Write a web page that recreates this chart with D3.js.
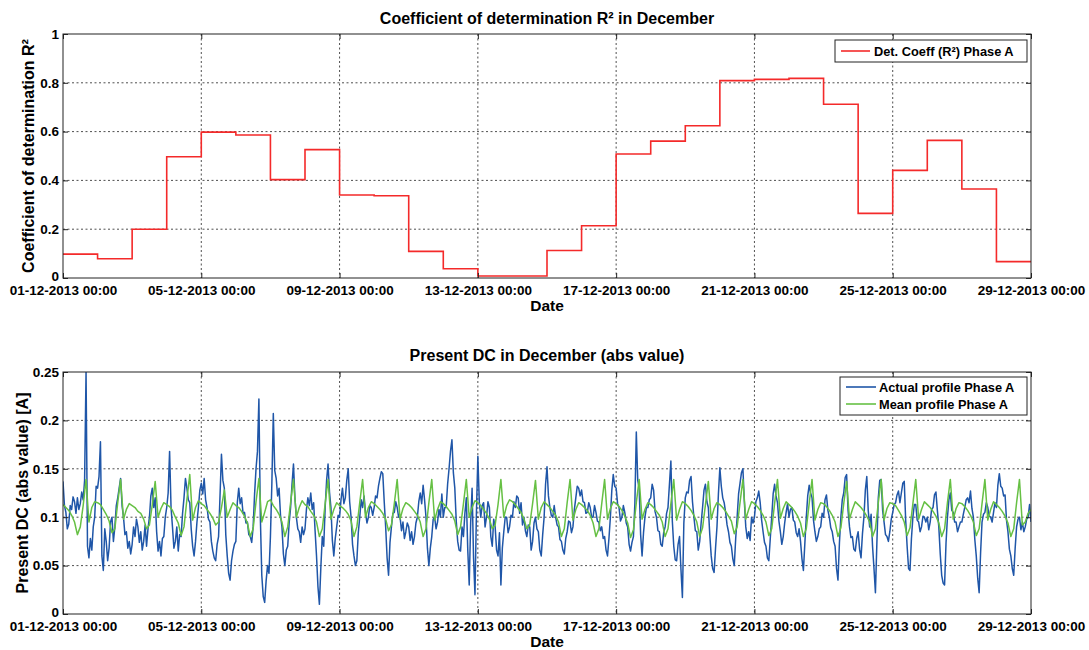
<!DOCTYPE html>
<html>
<head>
<meta charset="utf-8">
<script src="https://cdn.jsdelivr.net/npm/d3@7"></script>
<style>
  html, body { margin: 0; padding: 0; background: #fff; }
  svg { display: block; font-family: "Liberation Sans", Arial, sans-serif; }
  .tick text { font-weight: bold; font-size: 13.5px; fill: #000; }
</style>
</head>
<body>
<svg id="chart" width="1089" height="650"></svg>
<script>
// ---------------- DATA ----------------
const startDate = Date.UTC(2013, 11, 1);
const endDate = Date.UTC(2013, 11, 29);
const xTickDates = ["2013-12-01", "2013-12-05", "2013-12-09", "2013-12-13", "2013-12-17", "2013-12-21", "2013-12-25", "2013-12-29"];
const r2TickValues = [0, 0.2, 0.4, 0.6, 0.8, 1];
const dcTickValues = [0, 0.05, 0.1, 0.15, 0.2, 0.25];

// daily R² values, Dec 1 .. Dec 28
const r2Values = [0.098, 0.079, 0.2, 0.497, 0.598, 0.586, 0.403, 0.526, 0.34, 0.337,
                  0.109, 0.038, 0.008, 0.008, 0.113, 0.214, 0.508, 0.561, 0.624, 0.809,
                  0.814, 0.818, 0.712, 0.265, 0.441, 0.564, 0.365, 0.067];

// hourly samples of the actual profile, 01-12-2013 00:00 .. 29-12-2013 00:00
const actualStepHours = 1;
const actualProfile = [
  0.137, 0.112, 0.105, 0.088, 0.093, 0.112, 0.108, 0.121, 0.116, 0.104, 0.12, 0.108, 0.114, 0.126, 0.118, 0.138, 0.25, 0.07, 0.058, 0.078, 0.066, 0.09, 0.1, 0.132,
  0.13, 0.142, 0.178, 0.06, 0.045, 0.088, 0.075, 0.055, 0.068, 0.095, 0.1, 0.075, 0.09, 0.112, 0.12, 0.13, 0.14, 0.112, 0.1, 0.082, 0.085, 0.068, 0.075, 0.062,
  0.072, 0.09, 0.08, 0.098, 0.09, 0.074, 0.085, 0.066, 0.075, 0.092, 0.07, 0.088, 0.1, 0.122, 0.13, 0.11, 0.12, 0.085, 0.065, 0.075, 0.06, 0.078, 0.08, 0.1,
  0.11, 0.125, 0.168, 0.11, 0.09, 0.068, 0.075, 0.09, 0.065, 0.082, 0.08, 0.104, 0.12, 0.14, 0.13, 0.118, 0.115, 0.088, 0.07, 0.06, 0.075, 0.095, 0.11, 0.128,
  0.135, 0.124, 0.14, 0.118, 0.11, 0.098, 0.095, 0.075, 0.065, 0.058, 0.055, 0.072, 0.08, 0.122, 0.165, 0.138, 0.13, 0.082, 0.06, 0.042, 0.035, 0.055, 0.065, 0.072,
  0.075, 0.115, 0.13, 0.114, 0.12, 0.104, 0.105, 0.094, 0.095, 0.082, 0.08, 0.074, 0.09, 0.124, 0.15, 0.168, 0.222, 0.1, 0.04, 0.018, 0.012, 0.034, 0.05, 0.042,
  0.08, 0.135, 0.207, 0.148, 0.14, 0.122, 0.13, 0.102, 0.09, 0.062, 0.05, 0.066, 0.07, 0.094, 0.11, 0.134, 0.155, 0.12, 0.1, 0.088, 0.085, 0.074, 0.09, 0.082,
  0.088, 0.108, 0.12, 0.112, 0.125, 0.108, 0.115, 0.086, 0.06, 0.028, 0.01, 0.048, 0.08, 0.07, 0.11, 0.138, 0.155, 0.126, 0.11, 0.076, 0.06, 0.078, 0.09, 0.102,
  0.1, 0.118, 0.13, 0.114, 0.12, 0.138, 0.15, 0.116, 0.1, 0.072, 0.06, 0.05, 0.055, 0.084, 0.1, 0.118, 0.11, 0.122, 0.105, 0.094, 0.1, 0.112, 0.11, 0.102,
  0.11, 0.122, 0.12, 0.132, 0.14, 0.147, 0.145, 0.116, 0.09, 0.058, 0.04, 0.074, 0.09, 0.104, 0.105, 0.116, 0.11, 0.1, 0.1, 0.086, 0.095, 0.078, 0.085, 0.094,
  0.09, 0.076, 0.085, 0.072, 0.08, 0.094, 0.1, 0.116, 0.125, 0.114, 0.133, 0.118, 0.1, 0.068, 0.05, 0.068, 0.08, 0.098, 0.1, 0.088, 0.095, 0.108, 0.1, 0.124,
  0.1, 0.11, 0.11, 0.134, 0.15, 0.168, 0.18, 0.146, 0.13, 0.096, 0.075, 0.066, 0.065, 0.09, 0.08, 0.104, 0.12, 0.066, 0.03, 0.094, 0.13, 0.058, 0.02, 0.104,
  0.163, 0.116, 0.1, 0.112, 0.115, 0.09, 0.1, 0.116, 0.11, 0.08, 0.07, 0.098, 0.09, 0.066, 0.06, 0.084, 0.03, 0.068, 0.085, 0.1, 0.1, 0.084, 0.09, 0.102,
  0.1, 0.116, 0.11, 0.122, 0.12, 0.104, 0.115, 0.092, 0.1, 0.086, 0.08, 0.092, 0.09, 0.066, 0.075, 0.094, 0.1, 0.088, 0.085, 0.066, 0.06, 0.082, 0.1, 0.134,
  0.152, 0.122, 0.11, 0.102, 0.1, 0.112, 0.1, 0.092, 0.09, 0.077, 0.075, 0.066, 0.062, 0.078, 0.085, 0.096, 0.095, 0.084, 0.09, 0.108, 0.12, 0.132, 0.13, 0.122,
  0.128, 0.116, 0.115, 0.104, 0.105, 0.115, 0.11, 0.1, 0.1, 0.112, 0.105, 0.096, 0.095, 0.086, 0.09, 0.078, 0.08, 0.066, 0.06, 0.078, 0.1, 0.128, 0.144, 0.132,
  0.13, 0.114, 0.11, 0.096, 0.1, 0.112, 0.105, 0.094, 0.09, 0.072, 0.065, 0.074, 0.08, 0.114, 0.188, 0.138, 0.13, 0.082, 0.06, 0.084, 0.1, 0.11, 0.11, 0.118,
  0.12, 0.134, 0.128, 0.106, 0.1, 0.086, 0.085, 0.072, 0.07, 0.084, 0.09, 0.104, 0.11, 0.134, 0.158, 0.096, 0.07, 0.056, 0.055, 0.072, 0.08, 0.046, 0.017, 0.094,
  0.12, 0.126, 0.125, 0.138, 0.142, 0.116, 0.1, 0.086, 0.085, 0.066, 0.075, 0.094, 0.11, 0.128, 0.134, 0.116, 0.11, 0.082, 0.06, 0.047, 0.043, 0.068, 0.09, 0.124,
  0.151, 0.132, 0.12, 0.115, 0.105, 0.092, 0.085, 0.074, 0.07, 0.057, 0.05, 0.078, 0.1, 0.124, 0.135, 0.146, 0.15, 0.116, 0.09, 0.078, 0.085, 0.076, 0.1, 0.094,
  0.1, 0.116, 0.12, 0.127, 0.115, 0.097, 0.085, 0.074, 0.07, 0.058, 0.055, 0.078, 0.1, 0.124, 0.134, 0.122, 0.115, 0.096, 0.085, 0.072, 0.08, 0.094, 0.105, 0.114,
  0.1, 0.108, 0.11, 0.097, 0.095, 0.084, 0.08, 0.088, 0.075, 0.057, 0.045, 0.073, 0.1, 0.122, 0.133, 0.125, 0.12, 0.097, 0.085, 0.075, 0.08, 0.088, 0.09, 0.104,
  0.1, 0.118, 0.123, 0.107, 0.1, 0.089, 0.085, 0.075, 0.07, 0.047, 0.035, 0.073, 0.1, 0.118, 0.125, 0.141, 0.144, 0.107, 0.09, 0.079, 0.08, 0.067, 0.065, 0.078,
  0.085, 0.067, 0.058, 0.083, 0.1, 0.128, 0.142, 0.107, 0.09, 0.103, 0.07, 0.047, 0.022, 0.073, 0.12, 0.138, 0.139, 0.107, 0.095, 0.082, 0.08, 0.075, 0.085, 0.098,
  0.105, 0.113, 0.115, 0.123, 0.127, 0.115, 0.125, 0.135, 0.137, 0.097, 0.07, 0.047, 0.045, 0.078, 0.1, 0.113, 0.113, 0.097, 0.095, 0.085, 0.09, 0.101, 0.1, 0.095,
  0.1, 0.087, 0.095, 0.108, 0.11, 0.123, 0.126, 0.107, 0.09, 0.062, 0.04, 0.032, 0.03, 0.073, 0.1, 0.118, 0.125, 0.107, 0.105, 0.095, 0.095, 0.085, 0.09, 0.095,
  0.095, 0.103, 0.11, 0.118, 0.12, 0.115, 0.127, 0.109, 0.1, 0.077, 0.06, 0.037, 0.022, 0.063, 0.095, 0.103, 0.105, 0.115, 0.11, 0.101, 0.1, 0.095, 0.105, 0.115,
  0.11, 0.133, 0.145, 0.132, 0.13, 0.122, 0.123, 0.097, 0.085, 0.067, 0.06, 0.047, 0.04, 0.068, 0.09, 0.098, 0.1, 0.087, 0.095, 0.085, 0.09, 0.098, 0.1, 0.113,
  0.095
];

// two-hourly samples of the mean profile, 01-12-2013 00:00 .. 29-12-2013 00:00
const meanStepHours = 2;
const meanProfile = [
  0.113, 0.11, 0.107, 0.102, 0.095, 0.082, 0.09, 0.112, 0.139, 0.095, 0.11, 0.116,
  0.115, 0.113, 0.108, 0.103, 0.096, 0.084, 0.088, 0.115, 0.139, 0.098, 0.108, 0.114,
  0.112, 0.11, 0.106, 0.104, 0.098, 0.088, 0.092, 0.113, 0.137, 0.1, 0.109, 0.115,
  0.113, 0.111, 0.107, 0.1, 0.094, 0.081, 0.09, 0.118, 0.144, 0.097, 0.11, 0.117,
  0.114, 0.112, 0.108, 0.104, 0.099, 0.092, 0.095, 0.11, 0.128, 0.1, 0.108, 0.115,
  0.112, 0.11, 0.106, 0.101, 0.094, 0.08, 0.088, 0.116, 0.14, 0.095, 0.105, 0.116,
  0.118, 0.112, 0.108, 0.103, 0.095, 0.08, 0.09, 0.115, 0.139, 0.1, 0.11, 0.117,
  0.113, 0.111, 0.106, 0.102, 0.095, 0.08, 0.088, 0.114, 0.139, 0.098, 0.108, 0.115,
  0.112, 0.11, 0.107, 0.103, 0.096, 0.08, 0.09, 0.115, 0.139, 0.1, 0.11, 0.116,
  0.114, 0.111, 0.108, 0.104, 0.098, 0.086, 0.092, 0.114, 0.139, 0.098, 0.109, 0.115,
  0.113, 0.11, 0.106, 0.102, 0.095, 0.08, 0.088, 0.115, 0.139, 0.097, 0.108, 0.116,
  0.114, 0.111, 0.107, 0.103, 0.096, 0.082, 0.09, 0.114, 0.139, 0.1, 0.11, 0.117,
  0.115, 0.112, 0.108, 0.104, 0.098, 0.088, 0.092, 0.113, 0.139, 0.1, 0.112, 0.118,
  0.116, 0.113, 0.109, 0.105, 0.098, 0.088, 0.092, 0.114, 0.138, 0.098, 0.11, 0.116,
  0.113, 0.11, 0.106, 0.102, 0.095, 0.08, 0.088, 0.115, 0.139, 0.097, 0.108, 0.115,
  0.113, 0.11, 0.107, 0.102, 0.094, 0.08, 0.088, 0.114, 0.139, 0.098, 0.109, 0.116,
  0.114, 0.111, 0.107, 0.101, 0.094, 0.079, 0.087, 0.115, 0.139, 0.098, 0.108, 0.115,
  0.113, 0.11, 0.106, 0.102, 0.095, 0.08, 0.088, 0.114, 0.139, 0.097, 0.108, 0.116,
  0.114, 0.111, 0.107, 0.102, 0.095, 0.08, 0.089, 0.113, 0.137, 0.098, 0.109, 0.115,
  0.113, 0.11, 0.106, 0.101, 0.096, 0.083, 0.09, 0.115, 0.139, 0.098, 0.108, 0.116,
  0.114, 0.111, 0.107, 0.102, 0.095, 0.081, 0.088, 0.114, 0.139, 0.099, 0.109, 0.116,
  0.113, 0.11, 0.106, 0.101, 0.094, 0.08, 0.088, 0.114, 0.139, 0.097, 0.108, 0.115,
  0.114, 0.111, 0.107, 0.102, 0.095, 0.08, 0.089, 0.114, 0.137, 0.098, 0.108, 0.116,
  0.113, 0.11, 0.106, 0.101, 0.095, 0.08, 0.088, 0.115, 0.139, 0.097, 0.109, 0.115,
  0.114, 0.112, 0.107, 0.102, 0.095, 0.081, 0.089, 0.114, 0.139, 0.098, 0.108, 0.116,
  0.113, 0.11, 0.106, 0.101, 0.094, 0.08, 0.088, 0.115, 0.139, 0.098, 0.109, 0.115,
  0.114, 0.111, 0.107, 0.102, 0.095, 0.081, 0.088, 0.114, 0.139, 0.097, 0.108, 0.116,
  0.113, 0.11, 0.106, 0.101, 0.094, 0.08, 0.088, 0.115, 0.139, 0.092, 0.095, 0.104,
  0.108
];

// ---------------- DRAW ----------------
const svg = d3.select("#chart");
const plotLeft = 63, plotRight = 1031;
const fmt = d3.utcFormat("%d-%m-%Y %H:%M");
const tickDates = xTickDates.map(s => new Date(s + "T00:00:00Z"));

const x = d3.scaleUtc().domain([new Date(startDate), new Date(endDate)]).range([plotLeft, plotRight]);

function drawPanel(cfg) {
  const { top, bottom, yDomain, yTicks, title, titleY, yLabel, yLabelX, id } = cfg;
  const y = d3.scaleLinear().domain(yDomain).range([bottom, top]);
  const g = svg.append("g");

  // dotted grid
  const grid = g.append("g").attr("stroke", "#222").attr("stroke-width", 0.8).attr("stroke-dasharray", "2,2.5");
  grid.selectAll("line.v").data(tickDates.slice(1, -1)).join("line")
    .attr("x1", d => x(d)).attr("x2", d => x(d)).attr("y1", top).attr("y2", bottom);
  grid.selectAll("line.h").data(yTicks.slice(1, -1)).join("line")
    .attr("x1", plotLeft).attr("x2", plotRight).attr("y1", d => y(d)).attr("y2", d => y(d));

  svg.append("clipPath").attr("id", "clip" + id).append("rect")
    .attr("x", plotLeft).attr("y", top).attr("width", plotRight - plotLeft).attr("height", bottom - top);
  const plot = g.append("g").attr("clip-path", `url(#clip${id})`);

  // axes with inward ticks on all four sides
  const axB = d3.axisBottom(x).tickValues(tickDates).tickFormat(fmt).tickSize(-5).tickPadding(7.5);
  const axT = d3.axisTop(x).tickValues(tickDates).tickFormat("").tickSize(-5);
  const axL = d3.axisLeft(y).tickValues(yTicks).tickFormat(d3.format("~g")).tickSize(-5).tickPadding(4);
  const axR = d3.axisRight(y).tickValues(yTicks).tickFormat("").tickSize(-5);
  [[axB, `translate(0,${bottom})`], [axT, `translate(0,${top})`], [axL, `translate(${plotLeft},0)`], [axR, `translate(${plotRight},0)`]]
    .forEach(([ax, tr]) => {
      const a = g.append("g").attr("transform", tr).call(ax);
      a.select(".domain").remove();
      a.selectAll(".tick line").attr("stroke", "#222");
    });
  // lift the lowest y label a touch so it clears the first date label
  g.selectAll(".tick text").filter(d => d === 0 && typeof d === "number").attr("dy", "0.2em");

  g.append("rect").attr("x", plotLeft).attr("y", top).attr("width", plotRight - plotLeft).attr("height", bottom - top)
    .attr("fill", "none").attr("stroke", "#222").attr("stroke-width", 1);

  g.append("text").attr("x", (plotLeft + plotRight) / 2).attr("y", titleY).attr("text-anchor", "middle")
    .attr("font-weight", "bold").attr("font-size", 16).text(title);
  g.append("text").attr("x", (plotLeft + plotRight) / 2).attr("y", bottom + 33).attr("text-anchor", "middle")
    .attr("font-weight", "bold").attr("font-size", 15.5).text("Date");
  g.append("text").attr("transform", `translate(${yLabelX},${(top + bottom) / 2}) rotate(-90)`)
    .attr("text-anchor", "middle").attr("font-weight", "bold").attr("font-size", 16).text(yLabel);

  return { g, plot, y };
}

// ---- Top panel ----
const topP = drawPanel({
  id: 1, top: 34, bottom: 278, yDomain: [0, 1], yTicks: r2TickValues,
  title: "Coefficient of determination R\u00B2 in December", titleY: 24,
  yLabel: "Coefficient of determination R\u00B2", yLabelX: 34
});
const r2Data = r2Values.map((v, i) => ({ t: new Date(startDate + i * 86400000), v }));
r2Data.push({ t: new Date(endDate), v: r2Values[r2Values.length - 1] });
topP.plot.append("path").datum(r2Data)
  .attr("fill", "none").attr("stroke", "#f42a2a").attr("stroke-width", 1.6)
  .attr("d", d3.line().x(d => x(d.t)).y(d => topP.y(d.v)).curve(d3.curveStepAfter));

const lg1 = topP.g.append("g");
lg1.append("rect").attr("x", 835).attr("y", 40).attr("width", 192).attr("height", 22)
  .attr("fill", "#fff").attr("stroke", "#222").attr("stroke-width", 1);
lg1.append("line").attr("x1", 841).attr("x2", 870).attr("y1", 51).attr("y2", 51).attr("stroke", "#f42a2a").attr("stroke-width", 1.6);
lg1.append("text").attr("x", 874).attr("y", 55.5).attr("font-weight", "bold").attr("font-size", 12.8).text("Det. Coeff (R\u00B2) Phase A");

// ---- Bottom panel ----
const botP = drawPanel({
  id: 2, top: 372, bottom: 614, yDomain: [0, 0.25], yTicks: dcTickValues,
  title: "Present DC in December (abs value)", titleY: 361,
  yLabel: "Present DC (abs value) [A]", yLabelX: 27.5
});
const lineFor = hours => d3.line()
  .x((d, i) => x(new Date(startDate + i * hours * 3600000)))
  .y(d => botP.y(d));
botP.plot.append("path").datum(actualProfile).attr("fill", "none").attr("stroke", "#1f56a8")
  .attr("stroke-width", 1.5).attr("stroke-linejoin", "round").attr("d", lineFor(actualStepHours));
botP.plot.append("path").datum(meanProfile).attr("fill", "none").attr("stroke", "#66c044")
  .attr("stroke-width", 1.5).attr("stroke-linejoin", "round").attr("d", lineFor(meanStepHours));

const lg2 = botP.g.append("g");
lg2.append("rect").attr("x", 840).attr("y", 377).attr("width", 187).attr("height", 38)
  .attr("fill", "#fff").attr("stroke", "#222").attr("stroke-width", 1);
lg2.append("line").attr("x1", 846).attr("x2", 876).attr("y1", 387).attr("y2", 387).attr("stroke", "#1f56a8").attr("stroke-width", 1.6);
lg2.append("text").attr("x", 879).attr("y", 391.5).attr("font-weight", "bold").attr("font-size", 12.8).text("Actual profile Phase A");
lg2.append("line").attr("x1", 846).attr("x2", 876).attr("y1", 404).attr("y2", 404).attr("stroke", "#66c044").attr("stroke-width", 1.6);
lg2.append("text").attr("x", 879).attr("y", 408.5).attr("font-weight", "bold").attr("font-size", 12.8).text("Mean profile Phase A");
</script>
</body>
</html>
